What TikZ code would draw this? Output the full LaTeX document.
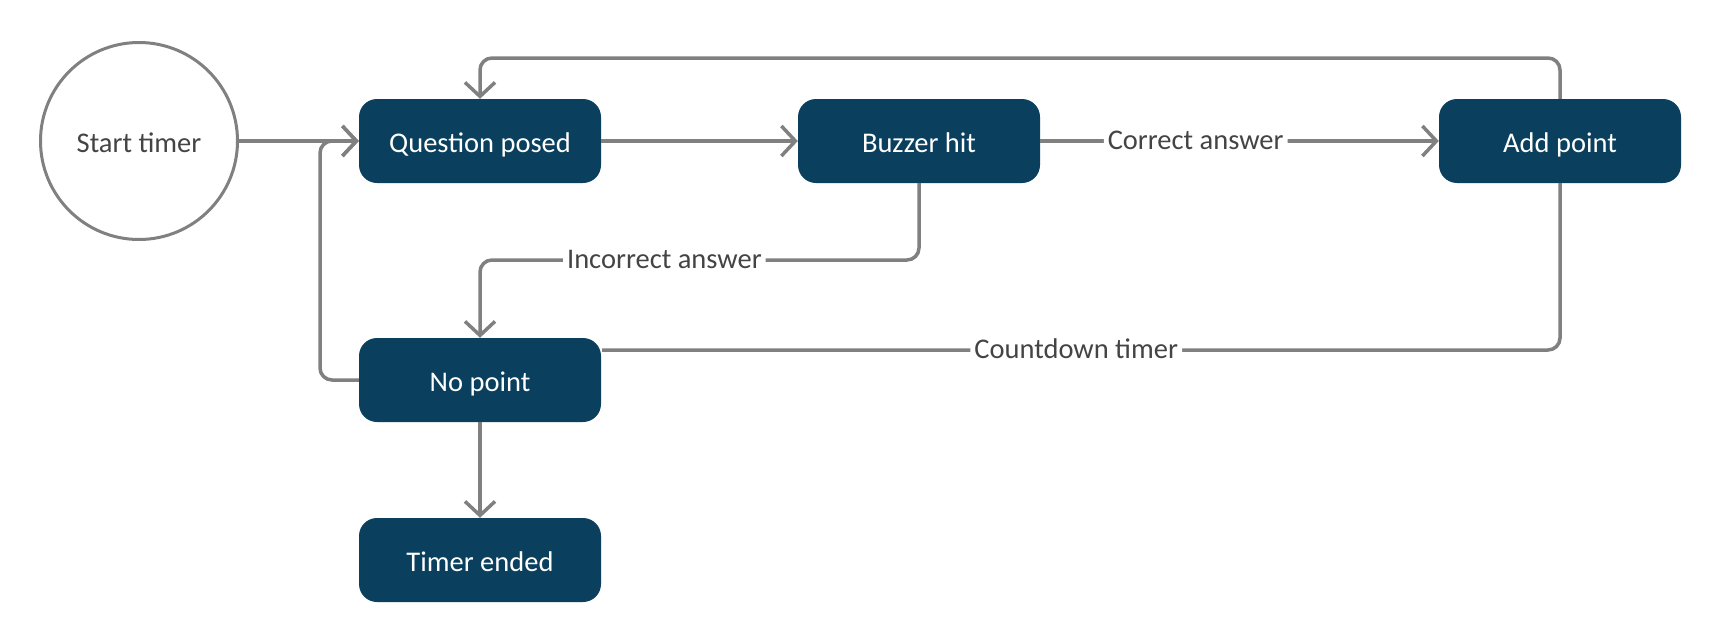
\documentclass[tikz,border=0pt]{standalone}
\usepackage{fontspec}
\setmainfont{Carlito}
\usetikzlibrary{arrows.meta,positioning}
\definecolor{boxblue}{HTML}{0A405E}
\definecolor{linegray}{HTML}{808080}
\definecolor{textgray}{HTML}{444444}
\tikzset{
  state/.style={draw=none, fill=boxblue, rounded corners=18pt, minimum width=242pt, minimum height=84pt,
    text=white, font=\fontsize{28.5}{31}\selectfont, inner sep=0pt, text height=26pt, text depth=4pt},
  startnode/.style={circle, draw=linegray, line width=3pt, fill=white, minimum size=197pt,
    text=textgray, font=\fontsize{28.5}{31}\selectfont, inner sep=0pt, text height=26pt, text depth=4pt},
  conn/.style={draw=linegray, line width=3.5pt, rounded corners=12pt},
  arr/.style={conn, -{Straight Barb[length=14pt,width=30pt,line width=3.5pt]}},
  lbl/.style={fill=white, text=textgray, font=\fontsize{28.5}{31}\selectfont, inner sep=4pt, text height=22pt, text depth=5pt}
}
\begin{document}
\begin{tikzpicture}[x=1pt,y=1pt]
\useasboundingbox (0,0) rectangle (1720,-640);
\node[startnode] (st) at (139,-141) {Start timer};
\node[state] (qp) at (480,-141) {Question posed};
\node[state] (bh) at (919,-141) {Buzzer hit};
\node[state] (ap) at (1560,-141) {Add point};
\node[state] (np) at (480,-380) {No point};
\node[state] (te) at (480,-560) {Timer ended};
\coordinate (c1) at (1560,-58);
\coordinate (c2) at (480,-58);
\coordinate (c3) at (919,-260);
\coordinate (c4) at (480,-260);
\coordinate (c5) at (320,-380);
\coordinate (c6) at (320,-141);
\coordinate (c7) at (1560,-350);
\coordinate (c8) at (602,-350);
% loops and lines
\draw[arr] (ap.north) -- (c1) -- (c2) -- (qp.north);
\draw[arr] (np.west) -- (c5) -- (c6) -- (qp.west);
\draw[arr] (st.east) -- (qp.west);
\draw[arr] (qp.east) -- (bh.west);
\draw[arr] (bh.east) -- node[lbl, pos=0.39] (l1) {Correct answer} (ap.west);
\draw[arr] (bh.south) -- (c3) -- node[lbl, pos=0.58] (l2) {Incorrect answer} (c4) -- (np.north);
\draw[conn] (c8) -- node[lbl, pos=0.495] (l3) {Countdown timer} (c7) -- (ap.south);
\draw[arr] (np.south) -- (te.north);
\end{tikzpicture}
\end{document}
